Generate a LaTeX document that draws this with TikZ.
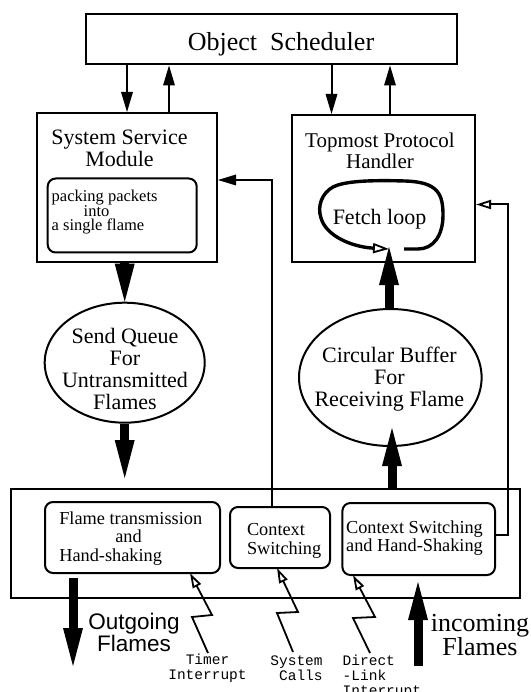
\documentclass[tikz,border=0pt]{standalone}
\usepackage{fontspec}
\setmainfont{Liberation Serif}
\setsansfont{Liberation Sans}
\setmonofont{Liberation Mono}
\usetikzlibrary{arrows.meta,shapes.geometric}
\begin{document}
\begin{tikzpicture}[x=1pt,y=-1pt,line width=2pt,
  box/.style={draw,rectangle,inner sep=0pt},
  rbox/.style={draw,rectangle,rounded corners=8pt,inner sep=0pt},
  oval/.style={draw,ellipse,inner sep=0pt},
  txt/.style={inner sep=0pt,align=center,font=\fontsize{22}{21.8}\selectfont},
  midtxt/.style={inner sep=0pt,font=\fontsize{18.3}{18.2}\selectfont},
  mono/.style={inner sep=0pt,font=\ttfamily\fontsize{14.5}{15}\selectfont},
  thinarrow/.style={-{Triangle[length=20pt,width=12pt,line width=0pt]}},
  openarrow/.style={-{Triangle[open,length=15pt,width=9pt,line width=1.8pt,fill=white]}},
  fat/.style={line width=9pt,-{Triangle[length=38pt,width=20pt,line width=0pt]}},
  zap/.style={line width=1.8pt,-{Triangle[open,length=15pt,width=9pt,line width=1.8pt,fill=white]}},
  loopline/.style={line width=3.4pt,-{Triangle[open,length=16pt,width=10pt,line width=1.8pt,fill=white]}}
]
\fill[white] (0,0) rectangle (530,692);
\useasboundingbox (0,0) rectangle (530,692);

% scheduler and the two upper modules
\node[box,minimum width=371pt,minimum height=50pt] (os) at (271.5,39.5) {};
\node[inner sep=0pt,font=\fontsize{26}{26}\selectfont] (ost) at (281,44) {Object\ \ Scheduler};

\node[box,minimum width=180.5pt,minimum height=149pt] (ssm) at (126.75,187.5) {};
\node[txt] (ssmt) at (119.5,148) {System Service\\Module};
\node[rbox,minimum width=149pt,minimum height=74pt] (pack) at (122.2,215.5) {};
\node[inner sep=0pt,anchor=west,align=left,font=\fontsize{16.5}{14.3}\selectfont] (packt) at (50.7,212) {packing packets\\\hspace*{32pt}into\\a single flame};

\node[box,minimum width=182.6pt,minimum height=147pt] (tph) at (383.7,188.5) {};
\node[txt,font=\fontsize{21}{21}\selectfont] (tpht) at (380,151) {Topmost Protocol\\Handler};
\node[txt,font=\fontsize{22}{22}\selectfont] (fetch) at (379.5,219) {Fetch loop};

% queues
\node[oval,minimum width=160pt,minimum height=120pt] (sq) at (124.7,362.7) {};
\node[txt] (sqt) at (125,369) {Send Queue\\For\\Untransmitted\\Flames};
\node[oval,minimum width=182.6pt,minimum height=137pt] (cb) at (390.3,377.5) {};
\node[txt] (cbt) at (389.4,379) {Circular Buffer\\For\\Receiving Flame};

% lower layer
\node[box,minimum width=509pt,minimum height=109pt] (big) at (265.5,543.5) {};
\node[rbox,minimum width=175pt,minimum height=71pt] (fth) at (132.5,537.5) {};
\node[midtxt,anchor=west,align=left] (ftht) at (58.3,538.5) {Flame transmission\\\hspace*{56pt}and\\Hand-shaking};
\node[rbox,minimum width=100pt,minimum height=61pt] (ctx) at (280,537.5) {};
\node[midtxt,anchor=west,align=left] (ctxt) at (246,541) {Context\\Switching};
\node[rbox,minimum width=152.6pt,minimum height=72pt] (hs) at (418.7,539) {};
\node[midtxt,align=center] (hst) at (414.5,538) {Context Switching\\and Hand-Shaking};

% outside labels
\node[inner sep=0pt,align=center,font=\sffamily\fontsize{22.5}{20.5}\selectfont] (outl) at (134,632) {Outgoing\\Flames};
\node[inner sep=0pt,align=center,font=\fontsize{26}{24}\selectfont] (inl) at (480,635) {incoming\\Flames};
\node[mono,align=center] (timer) at (207.5,668) {Timer\\Interrupt};
\node[mono,align=right] (sys) at (296.5,668) {System\\Calls};
\node[mono,align=left,anchor=north west] (dl) at (341.7,654.3) {Direct\\-Link\\Interrupt};

% column coordinates
\coordinate (c1) at (127,0);
\coordinate (c2) at (169,0);
\coordinate (c3) at (331.5,0);
\coordinate (c4) at (390,0);

% scheduler links
\draw[thinarrow] (os.south -| c1) -- (ssm.north -| c1);
\draw[thinarrow] (ssm.north -| c2) -- (os.south -| c2);
\draw[thinarrow] (os.south -| c3) -- (tph.north -| c3);
\draw[thinarrow] (tph.north -| c4) -- (os.south -| c4);

% fetch loop
\coordinate (loopstart) at (404,249);
\coordinate (loopend) at (389,249);
\draw[loopline] (loopstart) -- (418,249) .. controls (433,249) and (443,236) .. (443,215)
  .. controls (443,194) and (438,182) .. (405,181)
  .. controls (370,180) and (345,181) .. (333,187)
  .. controls (322,193) and (317,206) .. (321,218)
  .. controls (326,236) and (352,247) .. (loopend);

% thick data paths
\coordinate (sqend) at (124.7,478);
\coordinate (loopin) at (389,247);
\coordinate (cbin) at (392,428);
\coordinate (outtop) at (73,578);
\coordinate (outbot) at (73,666);
\coordinate (inbot) at (418,666);
\coordinate (intop) at (418,582);
\draw[fat] (ssm.south -| sq.north) -- (sq.north);
\draw[fat] (sq.south) -- (sqend);
\draw[fat] (cb.north -| loopin) -- (loopin);
\draw[fat] (big.north -| cbin) -- (cbin);
\draw[fat] (outtop) -- (outbot);
\draw[fat] (inbot) -- (intop);

% control links
\coordinate (mtop) at (272,180);
\draw[-{Triangle[length=18pt,width=11pt,line width=0pt]}] (ctx.north -| mtop) -- (mtop) -- (ssm.east |- mtop);
\coordinate (rtop) at (508,204.5);
\coordinate (rlow) at (508,535);
\draw[openarrow] (hs.east |- rlow) -- (rlow) -- (rtop) -- (tph.east |- rtop);

% interrupts
\coordinate (tz) at (208,653);
\coordinate (tztip) at (190,573);
\draw[zap] (tz) -- (192,617) -- (212,615) -- (tztip);
\coordinate (sz) at (293,652);
\coordinate (sztip) at (277,568);
\draw[zap] (sz) -- (277,613) -- (298,612) -- (sztip);
\coordinate (dz) at (370,653);
\coordinate (dztip) at (353,575);
\draw[zap] (dz) -- (353,618) -- (375,617) -- (dztip);
\end{tikzpicture}
\end{document}
